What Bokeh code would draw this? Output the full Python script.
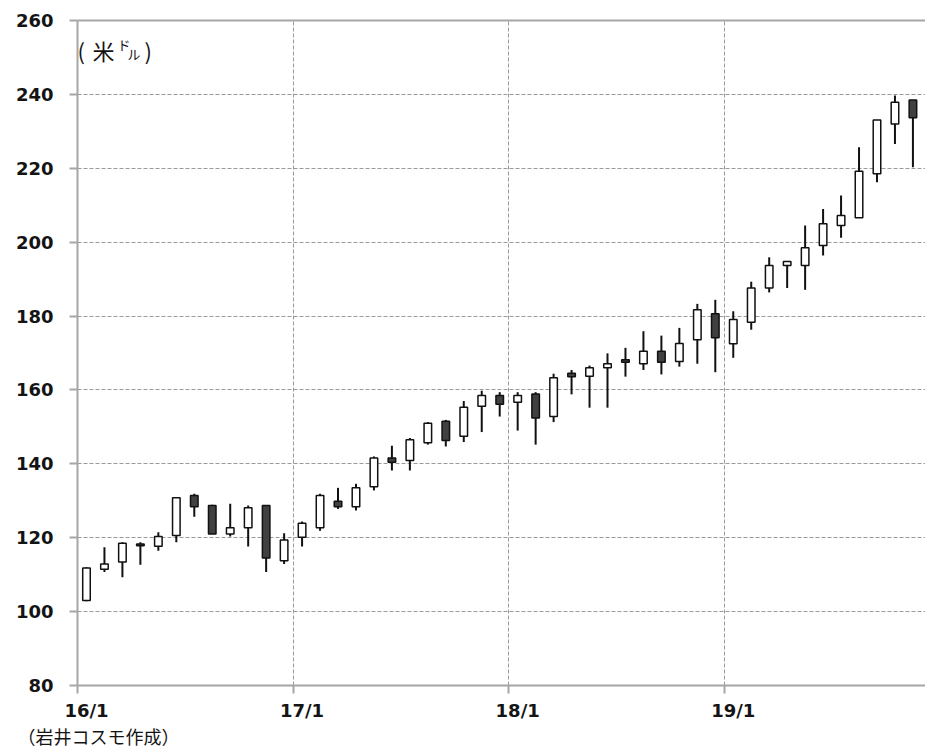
from bokeh.plotting import figure
from bokeh.models import Range1d, FixedTicker, LinearAxis, Label, ColumnDataSource, Title
from bokeh.embed import file_html
from bokeh.resources import INLINE

# Monthly candles, Jan 2016 .. Nov 2019 (US dollars)
months = ["16/1", "16/2", "16/3", "16/4", "16/5", "16/6", "16/7", "16/8", "16/9", "16/10", "16/11", "16/12",
          "17/1", "17/2", "17/3", "17/4", "17/5", "17/6", "17/7", "17/8", "17/9", "17/10", "17/11", "17/12",
          "18/1", "18/2", "18/3", "18/4", "18/5", "18/6", "18/7", "18/8", "18/9", "18/10", "18/11", "18/12",
          "19/1", "19/2", "19/3", "19/4", "19/5", "19/6", "19/7", "19/8", "19/9", "19/10", "19/11"]
opens = [103.0, 111.5, 113.4, 118.3, 117.7, 120.6, 131.4, 128.7, 121.0, 122.7, 128.7, 113.8,
         120.1, 122.7, 129.9, 128.4, 133.8, 141.6, 140.9, 145.7, 151.5, 147.5, 155.6, 158.5,
         156.7, 158.9, 152.8, 164.5, 163.7, 166.0, 168.2, 167.1, 170.5, 167.7, 173.6, 180.6,
         172.5, 178.3, 187.6, 193.7, 193.7, 199.1, 204.5, 206.6, 218.5, 232.0, 238.5]
highs = [112.0, 117.4, 118.8, 118.8, 121.5, 130.9, 131.9, 128.9, 129.2, 128.7, 128.7, 121.2,
         124.4, 131.9, 133.5, 134.6, 142.0, 144.9, 147.0, 151.3, 151.9, 157.0, 159.8, 159.4,
         159.4, 159.4, 164.4, 165.4, 166.6, 169.9, 171.4, 175.9, 174.7, 176.8, 183.3, 184.4,
         181.3, 189.3, 195.9, 194.8, 204.5, 209.0, 212.6, 225.7, 233.1, 239.7, 238.5]
lows = [102.8, 110.7, 109.3, 112.7, 116.5, 118.8, 125.7, 121.0, 120.3, 117.6, 110.7, 112.9,
        117.6, 121.9, 127.8, 127.4, 132.8, 138.2, 138.2, 145.2, 144.7, 145.9, 148.6, 152.8,
        149.0, 145.2, 151.3, 158.8, 155.2, 155.2, 163.6, 165.4, 164.2, 166.3, 167.1, 164.8,
        168.7, 176.3, 186.4, 187.6, 187.1, 196.4, 201.2, 206.6, 216.2, 226.6, 220.3]
closes = [111.8, 112.9, 118.5, 117.8, 120.3, 130.8, 128.4, 121.0, 122.7, 128.1, 114.5, 119.4,
          123.9, 131.4, 128.4, 133.5, 141.6, 140.4, 146.5, 151.0, 146.3, 155.3, 158.5, 156.1,
          158.5, 152.4, 163.3, 163.6, 166.0, 167.1, 167.5, 170.5, 167.5, 172.6, 181.7, 174.1,
          179.1, 187.6, 193.7, 194.8, 198.5, 205.0, 207.2, 219.2, 233.1, 237.9, 233.7]

year_ticks = [0, 12, 24, 36]
year_labels = ["16/1", "17/1", "18/1", "19/1"]
y_ticks = [80, 100, 120, 140, 160, 180, 200, 220, 240, 260]

GRAY = "#a6a6a6"
GRID = "#9a9a9a"
TXT = "#141414"

xs = [i + 0.5 for i in range(len(months))]
tops = [max(o, c) for o, c in zip(opens, closes)]
bots = [min(o, c) for o, c in zip(opens, closes)]
fills = ["#ffffff" if c >= o else "#404040" for o, c in zip(opens, closes)]
src = ColumnDataSource(dict(x=xs, high=highs, low=lows, top=tops, bottom=bots, fill=fills))

p = figure(frame_width=848, frame_height=665, x_range=Range1d(0, 47.2), y_range=Range1d(80, 260),
           output_backend="svg", toolbar_location=None,
           min_border_left=77, min_border_right=0, min_border_top=20, min_border_bottom=63)
p.outline_line_color = None
p.background_fill_color = "white"
p.border_fill_color = "white"

# y axis
p.yaxis.ticker = FixedTicker(ticks=y_ticks)
p.yaxis.axis_line_color = GRAY
p.yaxis.axis_line_width = 2
p.yaxis.major_tick_line_color = GRAY
p.yaxis.major_tick_line_width = 2
p.yaxis.major_tick_in = 0
p.yaxis.major_tick_out = 8
p.yaxis.minor_tick_line_color = None
p.yaxis.major_label_standoff = 16
p.yaxis.major_label_text_font = "DejaVu Sans"
p.yaxis.major_label_text_font_style = "bold"
p.yaxis.major_label_text_font_size = "18px"
p.yaxis.major_label_text_color = TXT

# x axis: labels at mid-January, tick marks at month starts
label_pos = [t + 0.5 for t in year_ticks]
p.xaxis.ticker = FixedTicker(ticks=label_pos, minor_ticks=year_ticks)
p.xaxis.major_label_overrides = {lp: lab for lp, lab in zip(label_pos, year_labels)}
p.xaxis.axis_line_color = GRAY
p.xaxis.axis_line_width = 2
p.xaxis.major_tick_line_color = None
p.xaxis.major_tick_in = 0
p.xaxis.major_tick_out = 8
p.xaxis.minor_tick_line_color = GRAY
p.xaxis.minor_tick_line_width = 2
p.xaxis.minor_tick_in = 0
p.xaxis.minor_tick_out = 8
p.xaxis.major_label_standoff = 6
p.xaxis.major_label_text_font = "DejaVu Sans"
p.xaxis.major_label_text_font_style = "bold"
p.xaxis.major_label_text_font_size = "18px"
p.xaxis.major_label_text_color = TXT

# source note below the x axis
JP = "Noto Sans CJK JP"
note = Title(text="（岩井コスモ作成）", align="left", offset=-60, standoff=-6,
             text_font=JP, text_font_size="18px", text_font_style="normal", text_color=TXT)
p.add_layout(note, "below")

# top border line
top_axis = LinearAxis(ticker=FixedTicker(ticks=[]), axis_line_color=GRAY, axis_line_width=2,
                      major_tick_line_color=None, minor_tick_line_color=None,
                      major_label_text_font_size="0px")
p.add_layout(top_axis, "above")

# grids
p.xgrid.ticker = FixedTicker(ticks=year_ticks[1:])
p.ygrid.ticker = FixedTicker(ticks=y_ticks[1:-1])
for g in (p.xgrid, p.ygrid):
    g.grid_line_color = GRID
    g.grid_line_dash = "4 2"
    g.grid_line_width = 1

# candles
p.segment(x0="x", y0="high", x1="x", y1="low", source=src, line_color="#111111", line_width=2)
p.vbar(x="x", top="top", bottom="bottom", width=0.42, source=src,
       fill_color="fill", line_color="#111111", line_width=1.5)

# unit label (米ドル)
for txt, sx, sy, fs in [("(", 0, 636, "22px"), ("米", 15, 636, "22px"),
                        ("ド", 40, 641, "13px"), ("ル", 50, 632, "13px"),
                        (")", 67, 636, "22px")]:
    p.add_layout(Label(x=sx, y=sy, x_units="screen", y_units="screen", text=txt,
                       text_font=JP, text_font_size=fs, text_color=TXT,
                       text_baseline="middle", text_align="left"))

open("out.html", "w").write(file_html(p, INLINE))
